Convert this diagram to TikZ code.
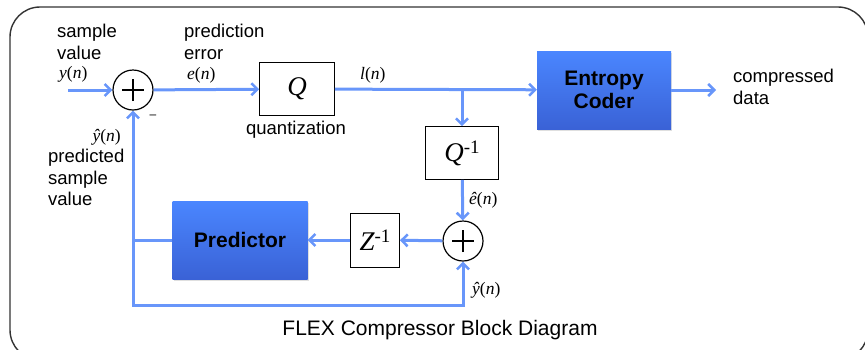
\documentclass[tikz,border=0pt]{standalone}
\usepackage{fontspec}
\setmainfont{Liberation Sans}
\newfontfamily\timesfont{Liberation Serif}
\usepackage{tikz}
\usetikzlibrary{arrows.meta, positioning, shadows}

\definecolor{flowblue}{RGB}{104,150,250}
\definecolor{coderhi}{RGB}{74,134,255}
\definecolor{coderlo}{RGB}{58,98,214}

\newcommand{\sig}[2]{{\timesfont\fontsize{17.5}{19}\selectfont\itshape #1\upshape(\itshape #2\upshape)}}
\newcommand{\opname}[2]{{\timesfont\fontsize{27}{30}\selectfont\itshape #1\upshape\raisebox{8pt}{\fontsize{19}{20}\selectfont #2}}}

\begin{document}
\begin{tikzpicture}[
  x=1pt, y=-1pt,
  every node/.style={font=\fontsize{18.5}{21.5}\selectfont},
  blockbox/.style={draw, thick, minimum width=#1, minimum height=53pt, inner sep=0pt, fill=white},
  blockbox/.default=75pt,
  coderbox/.style={draw=none, top color=coderhi, bottom color=coderlo, drop shadow={opacity=0.25, shadow xshift=1pt, shadow yshift=-1.5pt},
    minimum width=134pt, minimum height=78pt, align=center, font=\fontsize{21}{23.5}\selectfont\bfseries},
  sumnode/.style={draw, circle, line width=1.2pt, minimum size=40pt, inner sep=0pt, fill=white,
    path picture={
      \draw[line width=2.2pt] ([xshift=-11pt]path picture bounding box.center) -- ([xshift=11pt]path picture bounding box.center);
      \draw[line width=2.2pt] ([yshift=-11pt]path picture bounding box.center) -- ([yshift=11pt]path picture bounding box.center);
    }},
  arrow/.style={-{Straight Barb[length=6pt, width=12pt, line width=2.5pt]}, line width=3pt, flowblue}
]
  \useasboundingbox (0,0) rectangle (865,349);
  \begin{scope}
    \clip (0,0) rectangle (865,349);
    \draw[line width=1.4pt, black!80, rounded corners=30pt] (10,7) rectangle (868,360);
  \end{scope}

  % Summing points
  \node[sumnode] (s1) at (133,90) {};
  \node[sumnode] (s2) at (463,241) {};

  % Quantizer and inverse
  \node[blockbox] (q) at (297,89) {\opname{Q}{}};
  \node[blockbox=73pt] (qi) at (462,153) {\opname{Q}{-1}};
  \node[blockbox=49pt, minimum height=54pt] (z) at (375,240) {\opname{Z}{-1}};

  % Blue blocks
  \node[coderbox] (ec) at (604,90) {Entropy\\Coder};
  \node[coderbox, minimum width=135pt] (pred) at (240,240) {Predictor};

  % Free ends
  \coordinate (in) at (68,90);
  \coordinate (out) at (716,90);
  \coordinate (br) at (462,90);
  \coordinate (fb) at (133,240);
  \coordinate (bl) at (133,305);

  % Forward path
  \draw[arrow] (in) -- (s1);
  \draw[arrow] (s1) -- (q);
  \draw[arrow] (q) -- (ec);
  \draw[arrow] (ec) -- (out);
  \draw[arrow] (br) -- (qi);
  \draw[arrow] (qi) -- (s2);

  % Feedback path
  \draw[arrow] (s2) -- (z);
  \draw[arrow] (z) -- (pred);
  \draw[arrow] (pred.west) -| (s1.south);
  \draw[arrow] (fb) |- (bl) -| (s2.south);

  % Labels
  \node[anchor=north west, inner sep=0pt, align=left] (lsample) at (57,24) {sample\\value};
  \node[anchor=west, inner sep=0pt] (ly) at (59,74) {\sig{y}{n}};
  \node[anchor=north west, inner sep=0pt, align=left] (lerror) at (184,24) {prediction\\error};
  \node[anchor=west, inner sep=0pt] (le) at (187,75) {\sig{e}{n}};
  \node[inner sep=0pt] (lquant) at (296,130) {quantization};
  \node[anchor=west, inner sep=0pt] (ll) at (360,75) {\sig{l}{n}};
  \node[anchor=north west, inner sep=0pt, align=left] (lcomp) at (733,69) {compressed\\data};
  \node[anchor=west, inner sep=0pt] (lehat) at (469,200) {\sig{\^e}{n}};
  \node[anchor=west, inner sep=0pt] (lyhat) at (472,290) {\sig{\^y}{n}};
  \node[anchor=east, inner sep=0pt] (lyhatl) at (121,137) {\sig{\^y}{n}};
  \node[anchor=north west, inner sep=0pt, align=left] (lpred) at (48,149) {predicted\\sample\\value};
  \node[inner sep=0pt] (lminus) at (153,117) {\fontsize{12}{12}\selectfont --};
  \node[font=\fontsize{21}{24}\selectfont] (title) at (440,330) {FLEX Compressor Block Diagram};
\end{tikzpicture}
\end{document}
